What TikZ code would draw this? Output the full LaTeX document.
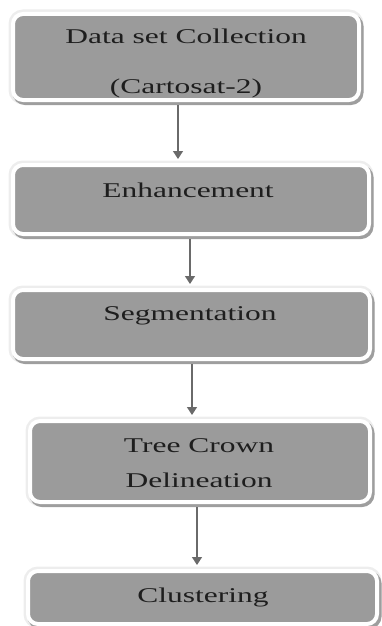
\documentclass[tikz,border=0pt]{standalone}
\usepackage{fontspec}
\setmainfont{Liberation Serif}[FakeStretch=1.5]
\usepackage{tikz}
\usetikzlibrary{arrows.meta}

\definecolor{boxgray}{HTML}{9B9B9B}
\definecolor{flowgray}{HTML}{6A6A6A}
\definecolor{inkgray}{HTML}{1E1E1E}

\begin{document}
\begin{tikzpicture}[x=1pt,y=-1pt,
  stage/.style={rectangle, rounded corners=10pt, fill=boxgray, draw=white, line width=4pt,
    preaction={draw=black!7, line width=9pt},
    preaction={draw=black!38, line width=5pt, transform canvas={xshift=2pt,yshift=-2.5pt}}},
  caption/.style={inner sep=0pt, anchor=base, align=center, text=inkgray,
    font=\fontsize{21}{35}\selectfont},
  flow/.style={draw=flowgray, line width=1.4pt, -{Triangle[width=10pt,length=8pt]}}]
\useasboundingbox (0,0) rectangle (382,626);

\node[stage, minimum width=346pt, minimum height=86pt] (dsc) at (186,57) {};
\node[stage, minimum width=356pt, minimum height=69pt] (enh) at (191,199.5) {};
\node[stage, minimum width=357pt, minimum height=69pt] (seg) at (191.5,324.5) {};
\node[stage, minimum width=340pt, minimum height=81pt] (tcd) at (200,461.5) {};
\node[stage, minimum width=349pt, minimum height=53pt] (clu) at (202.5,597.5) {};

% base of a two-line caption is its last line
\node[caption] (dsc-t) at (186,93) {Data set Collection\\[15pt](Cartosat-2)};
\node[caption] (enh-t) at (188,197) {Enhancement};
\node[caption] (seg-t) at (190,320) {Segmentation};
\node[caption] (tcd-t) at (199,487) {Tree Crown\\Delineation};
\node[caption] (clu-t) at (203,602) {Clustering};

\draw[flow, shorten <=3pt, shorten >=4pt] ([xshift=-8pt]dsc.south) -- ([xshift=-8pt]dsc.south |- enh.north);
\draw[flow, shorten <=3pt, shorten >=4pt] ([xshift=-1pt]enh.south) -- ([xshift=-1pt]enh.south |- seg.north);
\draw[flow, shorten <=3pt, shorten >=4pt] ([xshift=0.5pt]seg.south) -- ([xshift=0.5pt]seg.south |- tcd.north);
\draw[flow, shorten <=3pt, shorten >=4pt] ([xshift=-3pt]tcd.south) -- ([xshift=-3pt]tcd.south |- clu.north);

\end{tikzpicture}
\end{document}
